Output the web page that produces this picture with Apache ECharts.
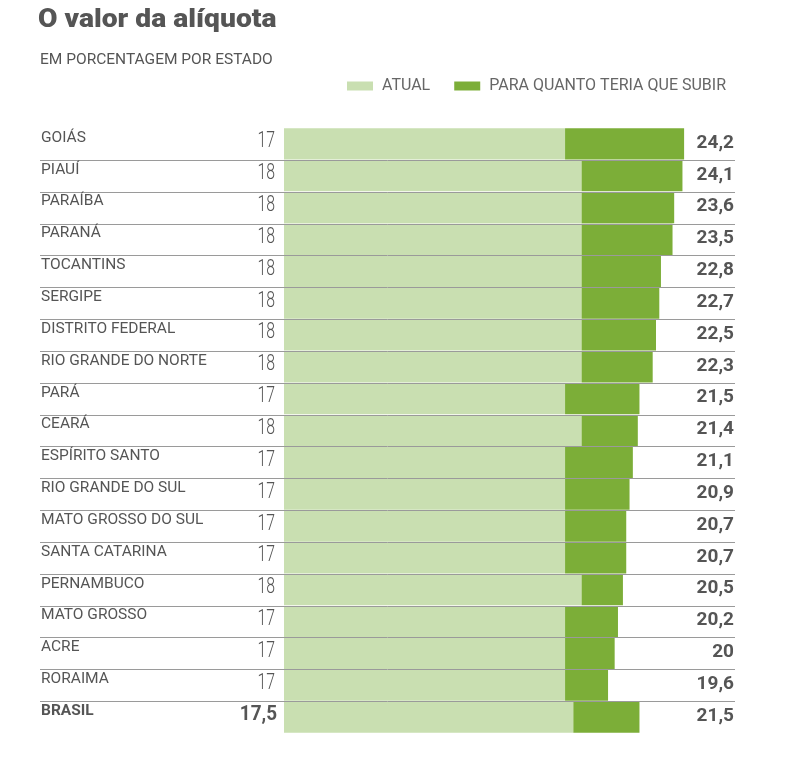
<!DOCTYPE html>
<html>
<head>
<meta charset="utf-8">
<script src="https://cdn.jsdelivr.net/npm/echarts@6/dist/echarts.min.js"></script>
<style>html,body{margin:0;padding:0;background:#fff;}#c{width:809px;height:779px;}</style>
</head>
<body>
<div id="c"></div>
<script>
var states = ['GOIÁS','PIAUÍ','PARAÍBA','PARANÁ','TOCANTINS','SERGIPE','DISTRITO FEDERAL','RIO GRANDE DO NORTE','PARÁ','CEARÁ','ESPÍRITO SANTO','RIO GRANDE DO SUL','MATO GROSSO DO SUL','SANTA CATARINA','PERNAMBUCO','MATO GROSSO','ACRE','RORAIMA','BRASIL'];
var atual = [17,18,18,18,18,18,18,18,17,18,17,17,17,17,18,17,17,17,17.5];
var target = [24.2,24.1,23.6,23.5,22.8,22.7,22.5,22.3,21.5,21.4,21.1,20.9,20.7,20.7,20.5,20.2,20,19.6,21.5];

var diff = target.map(function(t,i){ return Math.round((t - atual[i]) * 10) / 10; });
function fmt(v){ return String(v).replace('.', ','); }
var FONT = 'Roboto, "Noto Sans", sans-serif';
var lastIdx = states.length - 1;

var chart = echarts.init(document.getElementById('c'));
chart.setOption({
  animation: false,
  title: [
    { text: 'EM PORCENTAGEM POR ESTADO', left: 40, top: 52, padding: 0,
      textStyle: { fontFamily: FONT, fontSize: 15.5, fontWeight: 'normal', color: '#555555' } }
  ],
  graphic: [
    { type: 'text', x: 38, y: 8, scaleX: 1.13,
      style: { text: 'O valor da alíquota', fill: '#555555', fontFamily: FONT, fontSize: 25, fontWeight: 900,
        align: 'left', verticalAlign: 'top' } }
  ],
  legend: {
    data: ['ATUAL', 'PARA QUANTO TERIA QUE SUBIR'],
    left: 347, top: 78, padding: 0,
    icon: 'rect', itemWidth: 26, itemHeight: 9, itemGap: 24,
    textStyle: { fontFamily: FONT, fontSize: 16, color: '#666666', padding: [0,0,0,4] }
  },
  grid: { left: 284, right: 29, top: 128, bottom: 46 },
  xAxis: { type: 'value', min: 0, max: 30, show: false },
  yAxis: { type: 'category', data: states, inverse: true, show: false },
  series: [
    { name: 'ATUAL', type: 'bar', stack: 's', data: atual, barCategoryGap: '2%',
      itemStyle: { color: '#c9dfb1' }, z: 2 },
    { name: 'PARA QUANTO TERIA QUE SUBIR', type: 'bar', stack: 's', data: diff,
      itemStyle: { color: '#7cae38' }, z: 2 },
    { type: 'custom', z: 5, silent: true,
      data: states.map(function(s, i){ return [0, i]; }),
      renderItem: function(params, api){
        var i = params.dataIndex;
        var p = api.coord([0, i]);
        var band = api.size([0, 1])[1];
        var cy = p[1];
        var bold = (i === lastIdx);
        var children = [
          { type: 'text', style: { x: 41, y: cy - 6, text: states[i], align: 'left', verticalAlign: 'middle',
              fill: '#555555', fontFamily: FONT, fontSize: 15.5, fontWeight: bold ? 'bold' : 'normal' } },
          { type: 'text', x: bold ? 277 : 275, y: cy - 2, scaleX: bold ? 0.9 : 0.72,
            style: { x: 0, y: 0, text: fmt(atual[i]), align: 'right', verticalAlign: 'middle',
              fill: '#555555', fontFamily: FONT, fontSize: bold ? 21 : 22, fontWeight: bold ? 'bold' : 300 } },
          { type: 'text', style: { x: 734, y: cy - 1, text: fmt(target[i]), align: 'right', verticalAlign: 'middle',
              fill: '#555555', fontFamily: FONT, fontSize: 19, fontWeight: 'bold' } }
        ];
        if (i < lastIdx) {
          var ly = Math.round(cy + band / 2) + 0.5;
          children.push({ type: 'line', shape: { x1: 40, y1: ly, x2: 735, y2: ly },
            style: { stroke: '#9a9a9a', lineWidth: 1 } });
        }
        return { type: 'group', children: children };
      }
    }
  ]
});
</script>
</body>
</html>
